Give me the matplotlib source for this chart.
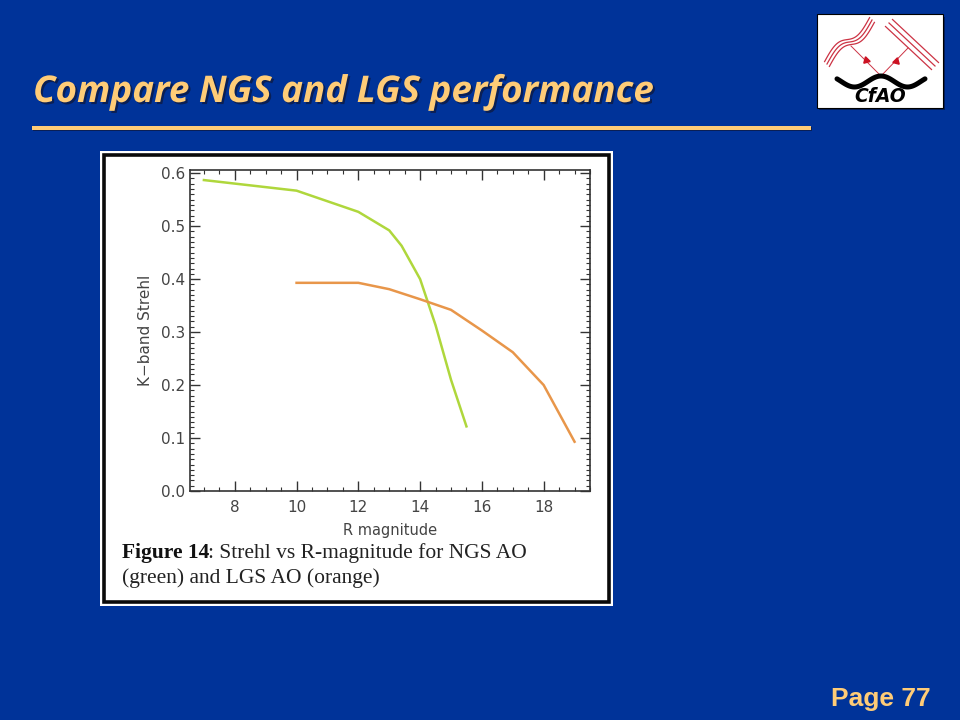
import numpy as np
import matplotlib
matplotlib.use("Agg")
import matplotlib.pyplot as plt
import matplotlib.patheffects as pe
from matplotlib.patches import Rectangle
from matplotlib.ticker import MultipleLocator

# Data
ngs_mag = [7, 10, 12, 13, 13.4, 14, 14.5, 15, 15.5]
ngs_strehl = [0.587, 0.567, 0.527, 0.492, 0.463, 0.400, 0.313, 0.210, 0.122]
lgs_mag = [10, 12, 13, 14, 15, 16, 17, 18, 19]
lgs_strehl = [0.393, 0.393, 0.381, 0.362, 0.342, 0.303, 0.262, 0.200, 0.093]
x_ticks = [8, 10, 12, 14, 16, 18]
y_ticks = [0.0, 0.1, 0.2, 0.3, 0.4, 0.5, 0.6]

BG = "#003399"
GOLD = "#FFCC77"
SHADOW = "#0a1f55"
W, H = 960, 720

fig = plt.figure(figsize=(9.6, 7.2), dpi=100, facecolor=BG)

# Page-level decoration in pixel coordinates
deco = fig.add_axes([0, 0, 1, 1], zorder=0)
deco.set_xlim(0, W)
deco.set_ylim(H, 0)
deco.axis("off")

deco.text(33, 102, "Compare NGS and LGS performance", color=GOLD, fontsize=26.5,
          family="Open Sans", weight="bold", style="italic", va="baseline", ha="left",
          path_effects=[pe.SimplePatchShadow(offset=(1.5, -1.5), shadow_rgbFace=SHADOW, alpha=1.0),
                        pe.Normal()])
deco.add_patch(Rectangle((33, 127), 779, 4, fc=SHADOW, ec="none"))
deco.add_patch(Rectangle((32, 126), 779, 4, fc=GOLD, ec="none"))
deco.text(931, 706, "Page 77", color=GOLD, fontsize=19, family="Liberation Sans",
          weight="bold", va="baseline", ha="right")

# Figure panel
deco.add_patch(Rectangle((100, 151), 513, 455, fc="white", ec="none"))
deco.add_patch(Rectangle((104, 155), 505, 447, fc="white", ec="#0a0a0a", lw=2.6))
deco.text(122, 553, "Figure 14", color="#111111", fontsize=15.5, family="Liberation Serif",
          weight="bold", va="center", ha="left")
deco.text(207.5, 553, ": Strehl vs R-magnitude for NGS AO", color="#222222", fontsize=15.5,
          family="Liberation Serif", va="center", ha="left")
deco.text(122, 578, "(green) and LGS AO (orange)", color="#222222", fontsize=15.5,
          family="Liberation Serif", va="center", ha="left")

# Logo
deco.add_patch(Rectangle((819, 17), 126, 93, fc="#001a55", ec="none", alpha=0.85))
deco.add_patch(Rectangle((816.5, 13.5), 126, 94.5, fc="white", ec="black", lw=0.8))
RED = "#cc3344"
t = np.linspace(0, 1, 60)
for off in (-3, 0, 3):
    xw = 827 + 45 * t + off * 0.8
    yw = 64 - 44 * t - 6 * np.sin(2 * np.pi * t) + off * 0.8
    deco.plot(xw, yw, color=RED, lw=0.9)
for off in (-3.5, 0, 3.5):
    deco.plot([889 + off, 935 + off], [23 - off, 66 - off], color=RED, lw=0.9)
deco.plot([851, 881, 908], [46, 76, 48], color=RED, lw=0.7)
deco.plot([866], [60], marker=(3, 0, 135), color="#cc1122", ms=5.5)
deco.plot([896], [61], marker=(3, 0, -135), color="#cc1122", ms=5.5)
xs = np.linspace(837, 925, 80)
ys = 81.5 - 5.5 * np.cos((xs - 881) / 53 * 2 * np.pi)
deco.plot(xs, ys, color="black", lw=3.6, solid_capstyle="round")
deco.text(880, 97, "CfAO", color="black", fontsize=13.5, family="DejaVu Sans", weight="bold",
          style="italic", ha="center", va="center")

# Chart
L, R, T, B = 190, 590, 170, 491
ax = fig.add_axes([L / W, 1 - B / H, (R - L) / W, (B - T) / H], zorder=2)
ax.set_facecolor("white")
ax.plot(ngs_mag, ngs_strehl, color="#AFD73C", lw=1.8)
ax.plot(lgs_mag, lgs_strehl, color="#E8964A", lw=1.8)
ax.set_xlim(6.55, 19.5)
ax.set_ylim(0.0, 0.606)
TXT = "#444444"
ax.set_xticks(x_ticks)
ax.set_xticklabels([str(v) for v in x_ticks])
ax.set_yticks(y_ticks)
ax.set_yticklabels([f"{v:.1f}" for v in y_ticks])
ax.xaxis.set_minor_locator(MultipleLocator(0.5))
ax.yaxis.set_minor_locator(MultipleLocator(0.01))
ax.tick_params(which="major", direction="in", top=True, right=True, length=7, width=1,
               color="#333333", labelcolor=TXT, labelsize=11, pad=3.5)
ax.tick_params(which="minor", direction="in", top=True, right=True, length=3, width=0.8,
               color="#333333")
ax.tick_params(axis="x", which="major", pad=6.5)
for s in ax.spines.values():
    s.set_color("#333333")
    s.set_linewidth(1.2)
ax.set_xlabel("R magnitude", color=TXT, fontsize=10.5, labelpad=6)
ax.set_ylabel("K\u2212band Strehl", color=TXT, fontsize=11, labelpad=6)

fig.savefig("out.png", dpi=100, facecolor=BG)
